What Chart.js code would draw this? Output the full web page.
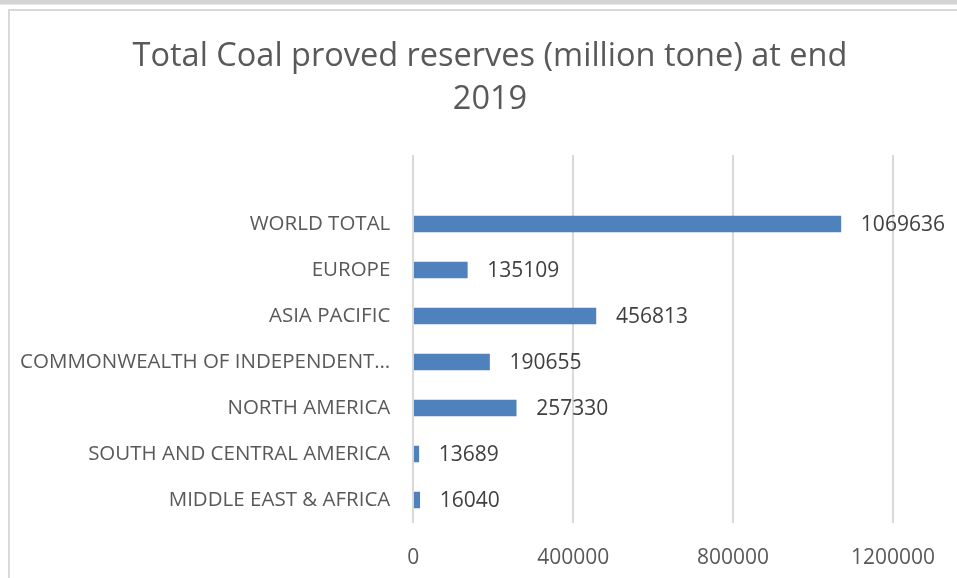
<!DOCTYPE html>
<html>
<head>
<meta charset="utf-8">
<title>Total Coal proved reserves</title>
<script src="https://cdn.jsdelivr.net/npm/chart.js@4.4.1/dist/chart.umd.min.js"></script>
<style>
  html, body { margin: 0; padding: 0; background: #fff; }
  #wrap { position: relative; width: 957px; height: 578px; }
</style>
</head>
<body>
<div id="wrap"><canvas id="coalChart" width="957" height="578"></canvas></div>
<script>
// regions, top to bottom as shown (first row of the sheet is blank)
const regions = [
  "",
  "WORLD TOTAL",
  "EUROPE",
  "ASIA PACIFIC",
  "COMMONWEALTH OF INDEPENDENT STATES",
  "NORTH AMERICA",
  "SOUTH AND CENTRAL AMERICA",
  "MIDDLE EAST & AFRICA",
];
// million tonnes, end of 2019
const reserves = [null, 1069636, 135109, 456813, 190655, 257330, 13689, 16040];
const xTicks = [0, 400000, 800000, 1200000];
const titleLines = ["Total Coal proved reserves (million tone) at end", "2019"];

const FONT = "'Open Sans', 'Liberation Sans', sans-serif";

// page strip above the chart, the chart frame and the title
const framePlugin = {
  id: "frame",
  beforeDraw(chart) {
    const c = chart.ctx;
    c.save();
    c.fillStyle = "#d4d4d4";
    c.fillRect(0, 0, chart.width, 4.5);
    c.strokeStyle = "#d9d9d9";
    c.lineWidth = 2;
    c.strokeRect(9, 10, chart.width + 20, chart.height + 20);

    c.font = "32.5px " + FONT;
    c.fillStyle = "#595959";
    c.textAlign = "center";
    c.textBaseline = "middle";
    titleLines.forEach((t, i) => c.fillText(t, 490, 57 + i * 43));
    c.restore();
  },
};

// value labels to the right of each bar
const valueLabels = {
  id: "valueLabels",
  afterDatasetsDraw(chart) {
    const c = chart.ctx;
    const meta = chart.getDatasetMeta(0);
    c.save();
    c.font = "21px " + FONT;
    c.fillStyle = "#404040";
    c.textAlign = "left";
    c.textBaseline = "middle";
    meta.data.forEach((bar, i) => {
      const v = chart.data.datasets[0].data[i];
      if (v == null) return;
      c.fillText(String(v), bar.x + 20, bar.y + 1);
    });
    c.restore();
  },
};

new Chart(document.getElementById("coalChart"), {
  type: "bar",
  data: {
    labels: regions,
    datasets: [
      {
        data: reserves,
        backgroundColor: "#4f81bd",
        borderWidth: 0,
        barThickness: 16,
      },
    ],
  },
  options: {
    indexAxis: "y",
    responsive: false,
    animation: false,
    layout: {
      padding: { left: 0, right: 59.5, top: 155, bottom: 10 },
    },
    plugins: {
      legend: { display: false },
      tooltip: { enabled: false },
      title: { display: false },
    },
    scales: {
      x: {
        min: 0,
        max: 1200000,
        afterBuildTicks(scale) {
          scale.ticks = xTicks.map((v) => ({ value: v }));
        },
        afterFit(scale) {
          scale.height = 45;
        },
        grid: { color: "#d9d9d9", lineWidth: 2, drawTicks: false },
        border: { display: false },
        ticks: {
          color: "#595959",
          font: { family: FONT, size: 21 },
          padding: 22,
          maxRotation: 0,
          callback: (v) => String(v),
        },
      },
      y: {
        afterFit(scale) {
          scale.width = 413.3;
        },
        grid: { display: false, drawTicks: false },
        border: { display: false },
        ticks: {
          color: "#595959",
          font: { family: FONT, size: 20.5 },
          padding: 23,
          autoSkip: false,
          callback(value) {
            const s = this.getLabelForValue(value);
            return s.length > 30 ? s.slice(0, 27) + "…" : s;
          },
        },
      },
    },
  },
  plugins: [framePlugin, valueLabels],
});
</script>
</body>
</html>
